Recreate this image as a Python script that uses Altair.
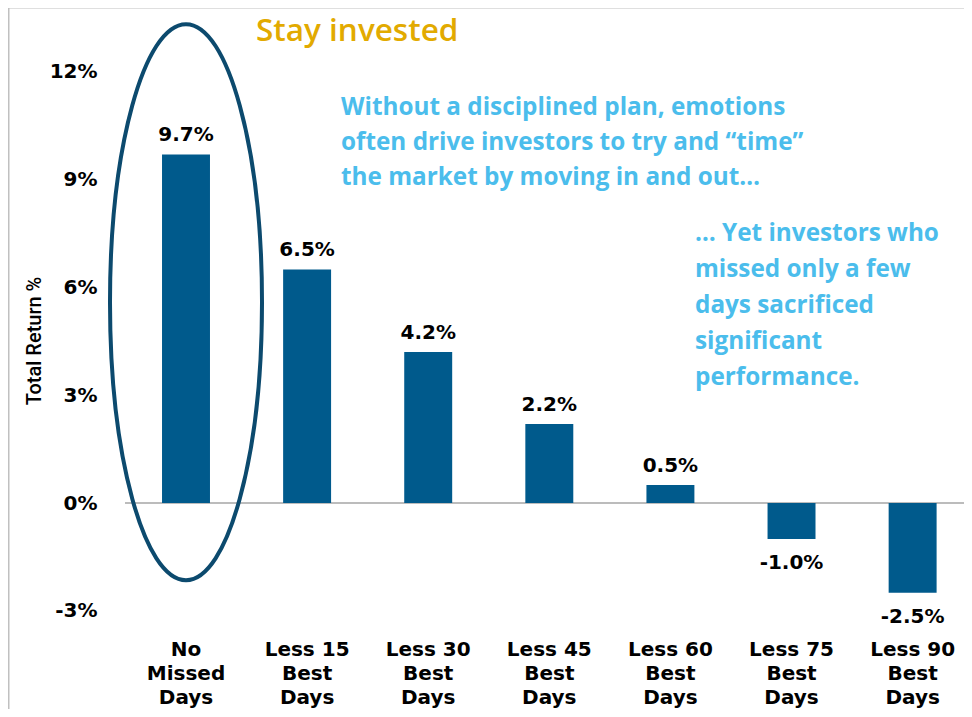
import altair as alt
import pandas as pd

categories = ["No Missed Days", "Less 15 Best Days", "Less 30 Best Days", "Less 45 Best Days",
              "Less 60 Best Days", "Less 75 Best Days", "Less 90 Best Days"]
returns = [9.7, 6.5, 4.2, 2.2, 0.5, -1.0, -2.5]
y_ticks = [-3, 0, 3, 6, 9, 12]

df = pd.DataFrame({"cat": categories, "ret": returns})
df["lbl"] = [f"{v:.1f}%" for v in returns]

W, H = 956, 701
BAR = "#005A8C"
NAVY = "#0C4A6E"
GOLD = "#E2AA00"
LBLUE = "#4BBDEC"
FONT = "DejaVu Sans"

xs = alt.Scale(domain=categories, paddingInner=0.604, paddingOuter=0.749, align=0.849)
ys = alt.Scale(domain=[-5.733, 13.777], nice=False, zero=False)

label_expr = ("split(replace(replace(replace(datum.label,' Missed','|Missed'),' Best','|Best'),' Days','|Days'),'|')")

x_enc = alt.X("cat:N", scale=xs, sort=categories, title=None,
              axis=alt.Axis(orient="bottom", offset=-70, labelExpr=label_expr, labelAngle=0,
                            labelFont=FONT, labelFontWeight="bold", labelFontSize=20,
                            labelColor="#000", labelLineHeight=24, labelPadding=0,
                            labelBaseline="top", domain=False, ticks=False, grid=False))
y_enc = alt.Y("ret:Q", scale=ys, title=None,
              axis=alt.Axis(orient="left", offset=-95, values=y_ticks,
                            labelExpr="datum.value + '%'", labelFont=FONT,
                            labelFontWeight="bold", labelFontSize=20, labelColor="#000",
                            labelPadding=6, domain=False, ticks=False, grid=False))

bars = alt.Chart(df).mark_bar(color=BAR).encode(x=x_enc, y=y_enc)

zero = alt.Chart(pd.DataFrame({"z": [0]})).mark_rule(color="#A6A6A6", strokeWidth=1.5).encode(
    y=alt.Y("z:Q", scale=ys), x=alt.value(117), x2=alt.value(W))

pos_lbl = alt.Chart(df).transform_filter("datum.ret >= 0").mark_text(
    font=FONT, fontWeight="bold", fontSize=20, color="#000", baseline="middle", dy=-19
).encode(x=alt.X("cat:N", scale=xs, sort=categories), y=alt.Y("ret:Q", scale=ys), text="lbl:N")
neg_lbl = alt.Chart(df).transform_filter("datum.ret < 0").mark_text(
    font=FONT, fontWeight="bold", fontSize=20, color="#000", baseline="middle", dy=24
).encode(x=alt.X("cat:N", scale=xs, sort=categories), y=alt.Y("ret:Q", scale=ys), text="lbl:N")

ell_path = "M -0.2734 0 A 0.2734 1 0 1 0 0.2734 0 A 0.2734 1 0 1 0 -0.2734 0 Z"
ellipse = alt.Chart(pd.DataFrame({"cat": [categories[0]], "c": [5.59]})).mark_point(
    shape=ell_path, filled=False, stroke=NAVY, strokeWidth=4, opacity=1, size=556 * 556
).encode(x=alt.X("cat:N", scale=xs, sort=categories), y=alt.Y("c:Q", scale=ys))

border_l = alt.Chart(pd.DataFrame({"a": [0]})).mark_rule(color="#C0C0C0", strokeWidth=2).encode(
    x=alt.value(0.5), y=alt.value(0), y2=alt.value(H))
border_t = alt.Chart(pd.DataFrame({"a": [0]})).mark_rule(color="#C0C0C0", strokeWidth=2).encode(
    x=alt.value(0), x2=alt.value(W), y=alt.value(-0.5))

ytitle = alt.Chart(pd.DataFrame({"t": ["Total Return %"]})).mark_text(
    font="Roboto", fontSize=20, fontWeight=500, color="#000", angle=270, baseline="middle", align="center"
).encode(text="t:N", x=alt.value(27), y=alt.value(333))

title = alt.Chart(pd.DataFrame({"t": ["Stay invested"]})).mark_text(
    font="Open Sans", fontWeight=600, fontSize=31.5, color=GOLD, baseline="middle", align="left"
).encode(text="t:N", x=alt.value(248), y=alt.value(24))

note1 = alt.Chart(pd.DataFrame({"t": ["Without a disciplined plan, emotions\noften drive investors to try and \u201ctime\u201d\nthe market by moving in and out\u2026"]})).mark_text(
    font="Open Sans", fontWeight="bold", fontSize=24.3, color=LBLUE, baseline="top", align="left",
    lineBreak="\n", lineHeight=35
).encode(text="t:N", x=alt.value(333), y=alt.value(88))

note2 = alt.Chart(pd.DataFrame({"t": ["\u2026 Yet investors who\nmissed only a few\ndays sacrificed\nsignificant\nperformance."]})).mark_text(
    font="Open Sans", fontWeight="bold", fontSize=24.3, color=LBLUE, baseline="top", align="left",
    lineBreak="\n", lineHeight=36
).encode(text="t:N", x=alt.value(687), y=alt.value(214))

chart = alt.layer(zero, bars, pos_lbl, neg_lbl, ellipse, border_l, border_t, ytitle, title, note1, note2).properties(
    width=W, height=H, padding=0, autosize=alt.AutoSizeParams(type="none")
).configure_view(strokeWidth=0)

chart.save("out.html", embed_options={"renderer": "svg", "actions": False})
